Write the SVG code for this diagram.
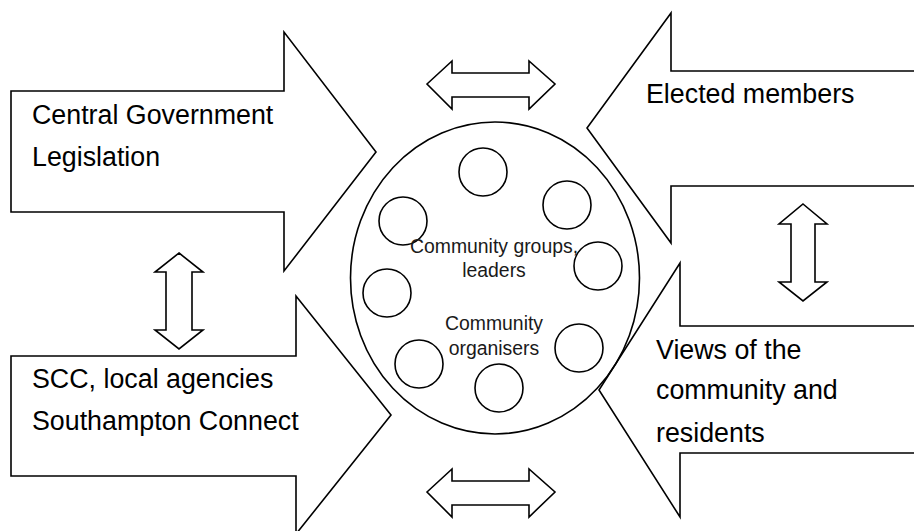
<svg xmlns="http://www.w3.org/2000/svg" width="914" height="531" viewBox="0 0 914 531">
  <style>
    .shape { fill: #ffffff; stroke: #000000; stroke-width: 1.6; stroke-linejoin: miter; }
    .ring { fill: none; stroke: #000000; stroke-width: 1.6; }
    .big { font-family: "Liberation Sans", Arial, sans-serif; font-size: 26.8px; fill: #000000; }
    .small { font-family: "Liberation Sans", Arial, sans-serif; font-size: 19.4px; fill: #1a1a1a; text-anchor: middle; }
  </style>
  <rect x="0" y="0" width="914" height="531" fill="#ffffff"/>

  <g id="node-central-government">
    <polygon class="shape" points="11,91 284,91 284,32 376,152 284,271 284,212 11,212"/>
    <text class="big" x="32" y="124">Central Government</text>
    <text class="big" x="32" y="166">Legislation</text>
  </g>

  <g id="node-scc">
    <polygon class="shape" points="11,356 296,356 296,296 391,415 296,534 296,476 11,476"/>
    <text class="big" x="32" y="388">SCC, local agencies</text>
    <text class="big" x="32" y="430">Southampton Connect</text>
  </g>

  <g id="node-elected-members">
    <polygon class="shape" points="920,71 671,71 671,13 587,128 671,243 671,186 920,186"/>
    <text class="big" x="646" y="103">Elected members</text>
  </g>

  <g id="node-views">
    <polygon class="shape" points="920,326 680,326 680,263 599,390 680,517 680,453 920,453"/>
    <text class="big" x="656" y="359">Views of the</text>
    <text class="big" x="656" y="399">community and</text>
    <text class="big" x="656" y="442">residents</text>
  </g>

  <g id="node-community">
    <ellipse class="ring" cx="495" cy="278" rx="144.5" ry="156"/>
    <circle class="ring" cx="483" cy="172" r="24"/>
    <circle class="ring" cx="567" cy="205" r="24"/>
    <circle class="ring" cx="403" cy="221" r="24"/>
    <circle class="ring" cx="598" cy="266" r="24"/>
    <circle class="ring" cx="387" cy="293" r="24"/>
    <circle class="ring" cx="579" cy="348" r="24"/>
    <circle class="ring" cx="419" cy="364" r="24"/>
    <circle class="ring" cx="499" cy="388" r="24"/>
    <text class="small" x="494" y="253">Community groups,</text>
    <text class="small" x="494" y="277">leaders</text>
    <text class="small" x="494" y="330">Community</text>
    <text class="small" x="494" y="355">organisers</text>
  </g>

  <g id="connectors">
    <polygon class="shape" points="179,253 203,272 192,272 192,330 203,330 179,349 155,330 166,330 166,272 155,272"/>
    <polygon class="shape" points="803,204 827,224 815,224 815,282 827,282 803,301 779,282 791,282 791,224 779,224"/>
    <polygon class="shape" points="427,84 452,61 452,73 529,73 529,61 555,84 529,109 529,97 452,97 452,109"/>
    <polygon class="shape" points="427,492 452,469 452,481 529,481 529,469 555,492 529,517 529,505 452,505 452,517"/>
  </g>
</svg>
